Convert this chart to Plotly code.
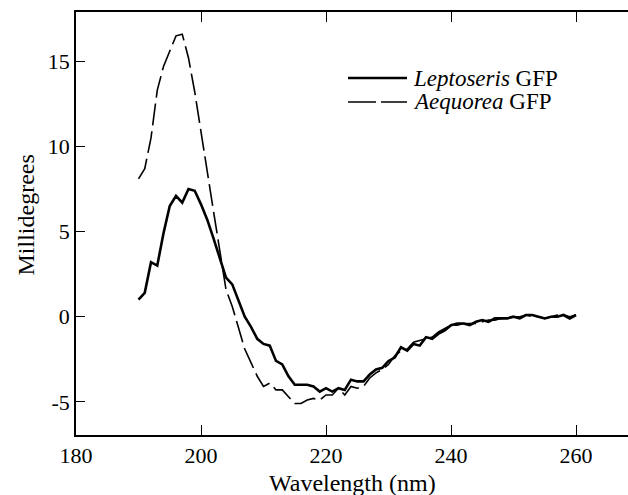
import plotly.graph_objects as go

wavelength = list(range(190, 261))

leptoseris = [1.0, 1.4, 3.2, 3.0, 4.9, 6.5, 7.1, 6.7, 7.5, 7.4,
              6.6, 5.7, 4.6, 3.5, 2.3, 1.9, 1.0, 0.0, -0.6, -1.3,
              -1.6, -1.7, -2.6, -2.8, -3.5, -4.0, -4.0, -4.0, -4.1, -4.4,
              -4.2, -4.4, -4.2, -4.3, -3.7, -3.8, -3.8, -3.4, -3.1, -3.0,
              -2.6, -2.4, -1.8, -2.0, -1.6, -1.7, -1.2, -1.3, -1.0, -0.8,
              -0.5, -0.4, -0.4, -0.5, -0.3, -0.2, -0.3, -0.1, -0.1, -0.1,
              0.0, -0.1, 0.1, 0.1, 0.0, -0.1, 0.0, 0.0, 0.1, -0.1, 0.1]

aequorea = [8.1, 8.7, 10.5, 13.3, 14.7, 15.6, 16.5, 16.6, 15.2, 13.2,
            10.8, 8.6, 6.2, 3.9, 1.6, 0.6, -0.6, -1.9, -2.7, -3.5,
            -4.1, -3.9, -4.3, -4.3, -4.7, -5.1, -5.1, -4.9, -4.8, -4.9,
            -4.6, -4.6, -4.2, -4.6, -4.1, -4.2, -4.1, -3.6, -3.3, -3.1,
            -2.8, -2.3, -2.0, -1.9, -1.5, -1.4, -1.3, -1.2, -0.9, -0.7,
            -0.5, -0.5, -0.4, -0.4, -0.4, -0.3, -0.2, -0.2, -0.1, -0.1,
            0.0, 0.0, 0.1, 0.0, 0.0, -0.1, 0.0, 0.1, 0.1, 0.0, 0.1]

x_ticks = [180, 200, 220, 240, 260]
y_ticks = [-5, 0, 5, 10, 15]

FONT = "Liberation Serif, Times New Roman, serif"

fig = go.Figure()
fig.add_trace(go.Scatter(x=wavelength, y=leptoseris, mode="lines",
                         line=dict(color="black", width=2.6),
                         name="Leptoseris GFP", showlegend=False))
fig.add_trace(go.Scatter(x=wavelength, y=aequorea, mode="lines",
                         line=dict(color="black", width=1.6, dash="22px,6px"),
                         name="Aequorea GFP", showlegend=False))

# figure slightly wider than the window so the right frame edge falls outside
W, H = 640, 495
L, R, T, B = 76, 0, 12, 60
pw, ph = W - L - R, H - T - B
x_end = 180 + pw / 6.25

def px(x):
    return (x - L) / pw

def py(y):
    return (H - B - y) / ph

# manual legend
fig.add_shape(type="line", xref="paper", yref="paper",
              x0=px(348), x1=px(407), y0=py(78), y1=py(78),
              line=dict(color="black", width=2.6))
fig.add_shape(type="line", xref="paper", yref="paper",
              x0=px(348), x1=px(407), y0=py(102), y1=py(102),
              line=dict(color="black", width=1.6, dash="28px,5px"))
fig.add_annotation(xref="paper", yref="paper", x=px(411), y=py(78),
                   xanchor="left", yanchor="middle", showarrow=False,
                   text="<i>Leptoseris</i> GFP",
                   font=dict(family=FONT, size=23, color="black"))
fig.add_annotation(xref="paper", yref="paper", x=px(411), y=py(102),
                   xanchor="left", yanchor="middle", showarrow=False,
                   text="<i>Aequorea</i> GFP",
                   font=dict(family=FONT, size=23, color="black"))

# axis titles
fig.add_annotation(xref="paper", yref="paper", x=px(25), y=py(215.5),
                   xanchor="center", yanchor="middle", showarrow=False,
                   textangle=-90, text="Millidegrees",
                   font=dict(family=FONT, size=24, color="black"))
fig.add_annotation(xref="paper", yref="paper", x=px(352), y=py(483),
                   xanchor="center", yanchor="middle", showarrow=False,
                   text="Wavelength (nm)",
                   font=dict(family=FONT, size=24, color="black"))

fig.update_layout(
    width=W, height=H,
    margin=dict(l=L, r=R, t=T, b=B, pad=0),
    paper_bgcolor="white", plot_bgcolor="white",
    font=dict(family=FONT, size=22, color="black"),
    xaxis=dict(range=[180, x_end], tickvals=x_ticks,
               ticks="inside", ticklen=10, tickwidth=1.2, tickcolor="black",
               showline=True, linecolor="black", linewidth=1.5, mirror="ticks",
               showgrid=False, zeroline=False, ticklabelstandoff=0),
    yaxis=dict(range=[-6.95, 17.9], tickvals=y_ticks,
               ticktext=[str(v) for v in y_ticks],
               ticks="inside", ticklen=9, tickwidth=1.2, tickcolor="black",
               showline=True, linecolor="black", linewidth=1.5, mirror=False,
               showgrid=False, zeroline=False, ticklabelstandoff=0),
)

fig.write_html("out.html", config={"displayModeBar": False},
               post_script="document.body.style.margin='0';document.body.style.overflow='hidden';")
